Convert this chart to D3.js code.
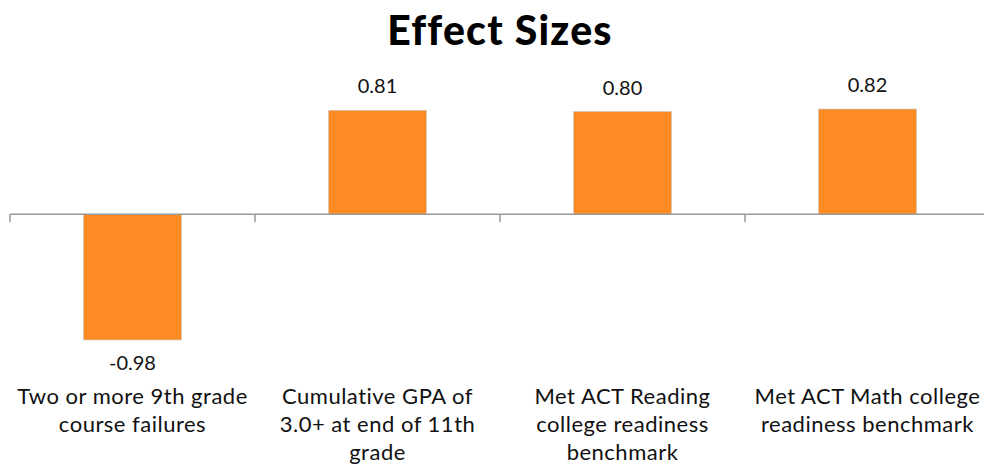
<!DOCTYPE html>
<html>
<head>
<meta charset="utf-8">
<script src="https://cdn.jsdelivr.net/npm/d3@7"></script>
<style>
  body { margin: 0; background: #fff; }
  svg { display: block; font-family: Lato, "Open Sans", sans-serif; }
</style>
</head>
<body>
<div id="chart"></div>
<script>
// chart data
const categories = ["failures", "gpa", "reading", "math"];
const categoryLines = [
  ["Two or more 9th grade", "course failures"],
  ["Cumulative GPA of", "3.0+ at end of 11th", "grade"],
  ["Met ACT Reading", "college readiness", "benchmark"],
  ["Met ACT Math college", "readiness benchmark"]
];
const values = [-0.98, 0.81, 0.80, 0.82];
const valueLabels = ["-0.98", "0.81", "0.80", "0.82"];

const width = 984, height = 466;
const margin = { left: 10, right: -6 };

const svg = d3.select("#chart")
  .append("svg")
  .attr("width", width)
  .attr("height", height);

const x = d3.scaleBand()
  .domain(categories)
  .range([margin.left, width - margin.right])
  .padding(0);

const y = d3.scaleLinear()
  .domain([-0.98, 0.82])
  .range([340, 109]);

const barW = x.bandwidth() * 0.4;

// title
svg.append("text")
  .attr("x", 500)
  .attr("y", 45)
  .attr("text-anchor", "middle")
  .style("font-size", "41px")
  .style("font-weight", "900")
  .style("letter-spacing", "1.2px")
  .text("Effect Sizes");

// bars
svg.selectAll("rect.bar")
  .data(values)
  .enter()
  .append("rect")
  .attr("class", "bar")
  .attr("x", (d, i) => x(categories[i]) + (x.bandwidth() - barW) / 2)
  .attr("y", d => y(Math.max(0, d)))
  .attr("width", barW)
  .attr("height", d => Math.abs(y(d) - y(0)))
  .attr("fill", "#fd8b24")
  .attr("stroke", "#c8c8c8")
  .attr("stroke-width", 0.6);

// axis line with ticks at band boundaries
const axisG = svg.append("g").attr("stroke", "#999").attr("stroke-width", 1.5);
axisG.append("line")
  .attr("x1", x.range()[0]).attr("x2", x.range()[1])
  .attr("y1", y(0)).attr("y2", y(0));
const boundaries = categories.map(c => x(c)).concat([x.range()[1]]);
axisG.selectAll("line.tick")
  .data(boundaries)
  .enter()
  .append("line")
  .attr("class", "tick")
  .attr("x1", d => d).attr("x2", d => d)
  .attr("y1", y(0)).attr("y2", y(0) + 8);

// value labels
svg.selectAll("text.val")
  .data(values)
  .enter()
  .append("text")
  .attr("class", "val")
  .attr("x", (d, i) => x(categories[i]) + x.bandwidth() / 2)
  .attr("y", d => d >= 0 ? y(d) - 17 : y(d) + 30)
  .attr("text-anchor", "middle")
  .style("font-size", "20px")
  .style("fill", "#111")
  .text((d, i) => valueLabels[i]);

// category labels
const catG = svg.selectAll("text.cat")
  .data(categoryLines)
  .enter()
  .append("text")
  .attr("class", "cat")
  .attr("text-anchor", "middle")
  .style("font-size", "22px")
  .style("letter-spacing", "0.5px")
  .style("fill", "#111");

catG.selectAll("tspan")
  .data((d, i) => d.map(line => ({ line, i })))
  .enter()
  .append("tspan")
  .attr("x", d => x(categories[d.i]) + x.bandwidth() / 2)
  .attr("y", (d, j) => 403.5 + j * 28)
  .text(d => d.line);
</script>
</body>
</html>
